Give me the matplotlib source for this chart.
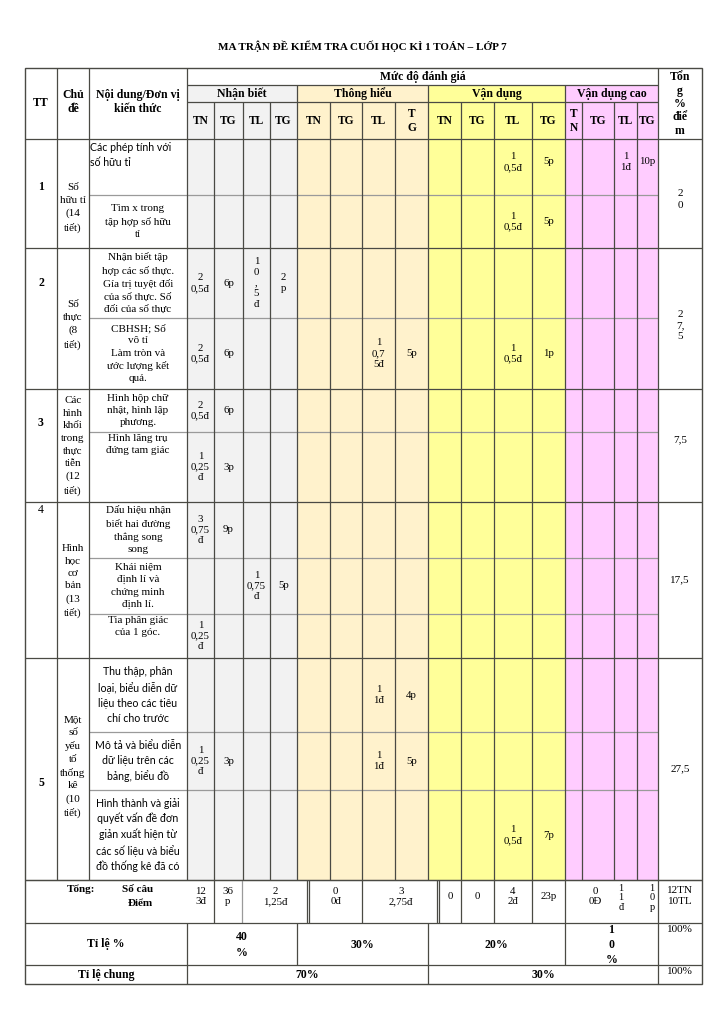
import matplotlib.pyplot as plt
from matplotlib.patches import Rectangle

SERIF = ['Liberation Serif', 'DejaVu Serif']
SANS = ['Lato', 'DejaVu Sans']

# ---- data ----
title = "MA TRẬN ĐỀ KIỂM TRA CUỐI HỌC KÌ 1 TOÁN – LỚP 7"
levels = ["Nhận biết", "Thông hiểu", "Vận dụng", "Vận dụng cao"]
level_colors = ["#f2f2f2", "#fff2cc", "#ffff99", "#ffccff"]
sub_cols = ["TN", "TG", "TL", "TG", "TN", "TG", "TL", "T\nG",
            "TN", "TG", "TL", "TG", "T\nN", "TG", "TL", "TG"]

topic_nums = ["1", "2", "3", "4", "5"]
topic_names = ["Số\nhữu tỉ\n(14\ntiết)", "Số\nthực\n(8\ntiết)",
               "Các\nhình\nkhối\ntrong\nthực\ntiễn\n(12\ntiết)",
               "Hình\nhọc\ncơ\nbản\n(13\ntiết)",
               "Một\nsố\nyếu\ntố\nthống\nkê\n(10\ntiết)"]
topic_units = [2, 2, 2, 3, 3]
topic_totals = ["2\n0", "2\n7,\n5", "7,5", "17,5", "27,5"]

units = ["Các phép tính với\nsố hữu tỉ",
         "Tìm x trong\ntập hợp số hữu\ntỉ",
         "Nhận biết tập\nhợp các số thực.\nGía trị tuyệt đối\ncủa số thực. Số\nđối của số thực",
         "CBHSH; Số\nvô tỉ\nLàm tròn và\nước lượng kết\nquả.",
         "Hình hộp chữ\nnhật, hình lập\nphương.",
         "Hình lăng trụ\nđứng tam giác",
         "Dấu hiệu nhận\nbiết hai đường\nthẳng song\nsong",
         "Khái niệm\nđịnh lí và\nchứng minh\nđịnh lí.",
         "Tia phân giác\ncủa 1 góc.",
         "Thu thập, phân\nloại, biểu diễn dữ\nliệu theo các tiêu\nchí cho trước",
         "Mô tả và biểu diễn\ndữ liệu trên các\nbảng, biểu đồ",
         "Hình thành và giải\nquyết vấn đề đơn\ngiản xuất hiện từ\ncác số liệu và biểu\nđồ thống kê đã có"]
unit_sans = [1, 0, 0, 0, 0, 0, 0, 0, 0, 1, 1, 1]

E = ""
cells_1a = [E, E, E, E, E, E, E, E, E, E, "1\n0,5đ", "5p", E, E, "1\n1đ", "10p"]
cells_1b = [E, E, E, E, E, E, E, E, E, E, "1\n0,5đ", "5p", E, E, E, E]
cells_2a = ["2\n0,5đ", "6p", "1\n0\n,\n5\nđ", "2\np", E, E, E, E, E, E, E, E, E, E, E, E]
cells_2b = ["2\n0,5đ", "6p", E, E, E, E, "1\n0,7\n5đ", "5p", E, E, "1\n0,5đ", "1p", E, E, E, E]
cells_3a = ["2\n0,5đ", "6p", E, E, E, E, E, E, E, E, E, E, E, E, E, E]
cells_3b = ["1\n0,25\nđ", "3p", E, E, E, E, E, E, E, E, E, E, E, E, E, E]
cells_4a = ["3\n0,75\nđ", "9p", E, E, E, E, E, E, E, E, E, E, E, E, E, E]
cells_4b = [E, E, "1\n0,75\nđ", "5p", E, E, E, E, E, E, E, E, E, E, E, E]
cells_4c = ["1\n0,25\nđ", E, E, E, E, E, E, E, E, E, E, E, E, E, E, E]
cells_5a = [E, E, E, E, E, E, "1\n1đ", "4p", E, E, E, E, E, E, E, E]
cells_5b = ["1\n0,25\nđ", "3p", E, E, E, E, "1\n1đ", "5p", E, E, E, E, E, E, E, E]
cells_5c = [E, E, E, E, E, E, E, E, E, E, "1\n0,5đ", "7p", E, E, E, E]
unit_cells = [cells_1a, cells_1b, cells_2a, cells_2b, cells_3a, cells_3b,
              cells_4a, cells_4b, cells_4c, cells_5a, cells_5b, cells_5c]

total_cells = ["12\n3đ", "36\np", "2\n1,25đ", "0\n0đ", "3\n2,75đ",
               "0", "0", "4\n2đ", "23p", "0\n0Đ"]
total_cut = ["1\n1\nđ", "1\n0\np"]
total_sum = "12TN\n10TL"
ratios = ["40\n%", "30%", "20%", "1\n0\n%"]
overall = ["70%", "30%"]

# ---- layout (pixel grid) ----
col_x = [25, 57, 89, 187, 214, 243, 270, 297, 330, 362, 395, 428,
         461, 494, 532, 565, 582, 614, 637, 658, 702]
head_y = [68, 85, 102, 139]
unit_h = [56, 53, 70, 71, 43, 70, 56, 56, 44, 74, 58, 90]
foot_y = [880, 923, 965, 984]
total_x = [187, 214, 242, 309.5, 362, 439.5, 461, 494, 532, 565, 625]
unit_top = [head_y[-1]]
for h in unit_h:
    unit_top.append(unit_top[-1] + h)

DARK = "#4a4a44"
LIGHT = "#9a9a9a"

fig = plt.figure(figsize=(7.25, 10.24), dpi=100)
ax = fig.add_axes([0, 0, 1, 1])
ax.set_xlim(0, 725)
ax.set_ylim(1024, 0)
ax.axis("off")


def txt(x, y, s, size=8, bold=False, fam=SERIF, ha="center", va="center",
        ls=1.45, ma="center"):
    return ax.text(x, y, s, fontsize=size, fontweight="bold" if bold else "normal",
                   family=fam, ha=ha, va=va, linespacing=ls, multialignment=ma)


def vline(x, y0, y1, c=DARK, lw=0.9):
    ax.plot([x, x], [y0, y1], color=c, lw=lw, solid_capstyle="butt")


def hline(y, x0, x1, c=DARK, lw=0.9):
    ax.plot([x0, x1], [y, y], color=c, lw=lw, solid_capstyle="butt")


# background colours
for g, col in enumerate(level_colors):
    x0, x1 = col_x[3 + 4 * g], col_x[7 + 4 * g]
    ax.add_patch(Rectangle((x0, head_y[1]), x1 - x0, foot_y[0] - head_y[1],
                           facecolor=col, edgecolor="none", zorder=0))

txt(362, 46, title, size=8, bold=True)

# header
txt(41, 103, "TT", size=8.5, bold=True)
txt(73, 102, "Chủ\nđề", size=8.5, bold=True, ls=1.2)
txt(138, 102, "Nội dung/Đơn vị\nkiến thức", size=8.5, bold=True, ls=1.2)
txt((col_x[3] + col_x[19]) / 2, 77, "Mức độ đánh giá", size=8.5, bold=True)
txt(680, 104, "Tổn\ng\n%\nđiể\nm", size=8.5, bold=True, ls=1.15)
for g, name in enumerate(levels):
    txt((col_x[3 + 4 * g] + col_x[7 + 4 * g]) / 2, 93.5, name, size=8.5, bold=True)
for i, s in enumerate(sub_cols):
    txt((col_x[3 + i] + col_x[4 + i]) / 2, 121, s, size=8.3, bold=True, ls=1.3)

# body
num_y = [187, 283, 423, 510, 783]
name_y = [208, 325, 446, 581, 767]
total_dy = [6, 7, -6, 0, 0]
u = 0
for t in range(len(topic_nums)):
    y0 = unit_top[u]
    y1 = unit_top[u + topic_units[t]]
    txt(41, num_y[t], topic_nums[t], size=8.5, bold=(t != 3))
    txt(73, name_y[t], topic_names[t], size=8, ls=1.5)
    txt(680, (y0 + y1) / 2 + total_dy[t], topic_totals[t], size=8, ls=1.3)
    hline(y1, col_x[0], col_x[-1])
    for k in range(topic_units[t]):
        r = u + k
        ry0, ry1 = unit_top[r], unit_top[r + 1]
        if k > 0:
            hline(ry0, col_x[2], col_x[19], c=LIGHT)
        if r == 0:
            txt(90, ry0 + 3, units[r], size=7.6, fam=SANS, ha="left", va="top",
                ls=1.4, ma="left")
        elif unit_sans[r]:
            txt(138, (ry0 + ry1) / 2, units[r], size=7.6, fam=SANS, ls=1.45)
        elif r in (5, 8):
            txt(138, ry0 + 2, units[r], size=8, va="top", ls=1.45)
        else:
            txt(138, (ry0 + ry1) / 2, units[r], size=8, ls=1.45)
        for i, s in enumerate(unit_cells[r]):
            if s:
                dy = -5 if r == 0 else 0
                txt((col_x[3 + i] + col_x[4 + i]) / 2, (ry0 + ry1) / 2 + dy, s,
                    size=7.8, ls=1.25)
    u += topic_units[t]

# footer: totals row
ty0, ty1 = foot_y[0], foot_y[1]
txt(81, 889, "Tổng:", size=8, bold=True)
txt(138, 889, "Số câu", size=8, bold=True)
txt(140, 903, "Điểm", size=8, bold=True)
for i, s in enumerate(total_cells):
    txt((total_x[i] + total_x[i + 1]) / 2, (ty0 + ty1) / 2 - 5, s, size=7.8, ls=1.2)
for s, xc, clip in zip(total_cut, [621, 652], [(622, 628), (647, 655)]):
    t_ = txt(xc, 898, s, size=7.5, ls=1.1)
    t_.set_clip_path(Rectangle((clip[0], ty0), clip[1] - clip[0], ty1 - ty0,
                               transform=ax.transData))
txt(680, 896, total_sum, size=8, ls=1.25)
for x in total_x[1:-1]:
    vline(x, ty0, ty1, c=LIGHT if x == 242 else DARK)
vline(307.5, ty0, ty1)
vline(437.5, ty0, ty1)

# ratio row
ry0, ry1 = foot_y[1], foot_y[2]
txt(106, 944, "Tỉ lệ %", size=8.5, bold=True)
for g, s in enumerate(ratios):
    txt((col_x[3 + 4 * g] + col_x[7 + 4 * g]) / 2, 945, s, size=8.5, bold=True, ls=1.35)
    vline(col_x[3 + 4 * g], ry0, ry1)
txt(680, 930, "100%", size=8)

# overall row
oy0, oy1 = foot_y[2], foot_y[3]
txt(106, 975, "Tỉ lệ chung", size=8.5, bold=True)
txt(307, 975, overall[0], size=8.5, bold=True)
txt(543, 975, overall[1], size=8.5, bold=True)
txt(680, 972, "100%", size=8)
for x in (col_x[3], col_x[11]):
    vline(x, oy0, oy1)

# grid lines
hline(head_y[1], col_x[3], col_x[19])
hline(head_y[2], col_x[3], col_x[19])
hline(head_y[3], col_x[0], col_x[-1])
for y in foot_y[:3]:
    hline(y, col_x[0], col_x[-1])
for x in (col_x[1], col_x[2], col_x[3], col_x[19]):
    vline(x, head_y[0], foot_y[0])
vline(col_x[19], foot_y[0], foot_y[3])
for i in range(4, 19):
    top = head_y[1] if (i - 3) % 4 == 0 else head_y[2]
    vline(col_x[i], top, foot_y[0])
ax.add_patch(Rectangle((col_x[0], head_y[0]), col_x[-1] - col_x[0], foot_y[3] - head_y[0],
                       fill=False, edgecolor=DARK, lw=1.0))

fig.savefig("out.png", dpi=100)
